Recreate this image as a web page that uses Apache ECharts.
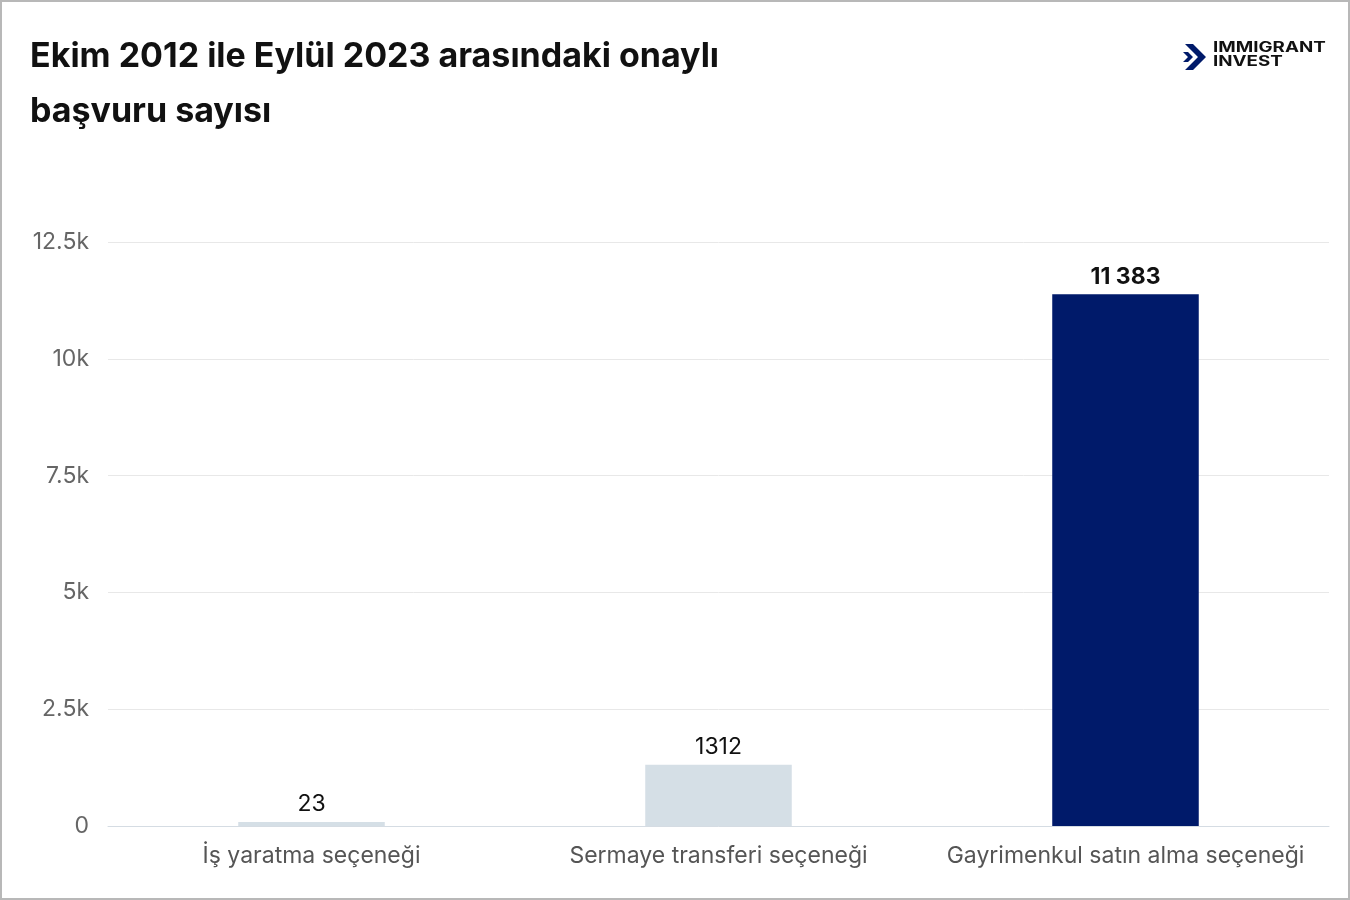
<!DOCTYPE html>
<html><head><meta charset="utf-8">
<script src="https://cdn.jsdelivr.net/npm/echarts@6/dist/echarts.min.js"></script>
<style>
html,body{margin:0;padding:0;background:#fff;}
#c{width:1346px;height:896px;border:2px solid #b8b8b8;}
</style></head>
<body><div id="c"></div>
<script>
const categories = ['İş yaratma seçeneği', 'Sermaye transferi seçeneği', 'Gayrimenkul satın alma seçeneği'];
const values = [23, 1312, 11383];
const valueLabels = ['23', '1312', '11 383'];
const yTicks = [0, 2500, 5000, 7500, 10000, 12500];
const yTickLabels = ['0', '2.5k', '5k', '7.5k', '10k', '12.5k'];

const colors = ['#d5dfe6', '#d5dfe6', '#001a6a'];
const chart = echarts.init(document.getElementById('c'), null, {renderer: 'canvas'});
const font = 'Inter, "Noto Sans", sans-serif';
chart.setOption({
  animation: false,
  textStyle: {fontFamily: font},
  title: {
    text: 'Ekim 2012 ile Eylül 2023 arasındaki onaylı\nbaşvuru sayısı',
    left: 23, top: 22,
    textStyle: {fontSize: 34, fontWeight: 'bold', color: '#111', lineHeight: 55, fontFamily: font}
  },
  grid: {left: 106, right: 19, top: 240, bottom: 72, containLabel: false},
  xAxis: {
    type: 'category', data: categories,
    axisLine: {lineStyle: {color: '#d5dce3', width: 1}},
    axisTick: {show: false},
    axisLabel: {fontSize: 23, color: '#555', margin: 19, interval: 0, fontFamily: font}
  },
  yAxis: {
    type: 'value', min: 0, max: 12500, interval: 2500,
    axisLine: {show: false}, axisTick: {show: false},
    splitLine: {lineStyle: {color: '#e8e8e8'}},
    axisLabel: {fontSize: 23, color: '#666', margin: 19, fontFamily: font,
      formatter: v => yTickLabels[yTicks.indexOf(v)]}
  },
  series: [{
    type: 'bar', barWidth: '36%', barMinHeight: 4,
    data: values.map((v, i) => ({value: v, itemStyle: {color: colors[i]},
      label: {fontWeight: i === 2 ? 'bold' : 'normal'}})),
    label: {show: true, position: 'top', distance: 6, fontSize: 23, color: '#111', fontFamily: font,
      formatter: p => valueLabels[p.dataIndex]}
  }],
  graphic: [
    {type: 'polygon', shape: {points: [[1183,42],[1191,42],[1204,55],[1191,68],[1183,68],[1196,55]]}, style: {fill: '#001a6a'}},
    {type: 'polygon', shape: {points: [[1181,50],[1186,50],[1191,55],[1186,60],[1181,60],[1186,55]]}, style: {fill: '#001a6a'}},
    {type: 'text', x: 1211, y: 39, scaleX: 1.34, style: {text: 'IMMIGRANT\nINVEST', fontSize: 14, fontWeight: 'bold', lineHeight: 14, fill: '#111', fontFamily: font}}
  ]
});
</script></body></html>
